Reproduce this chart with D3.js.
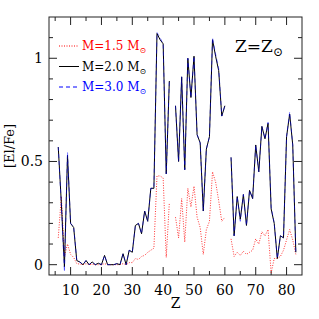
<!DOCTYPE html>
<html>
<head>
<meta charset="utf-8">
<script src="https://cdn.jsdelivr.net/npm/d3@7"></script>
<style>
  body { margin: 0; background: #fff; }
  text { font-family: "DejaVu Serif", "Liberation Serif", serif; }
</style>
</head>
<body>
<div id="chart"></div>
<script>

// atomic number of each element, null values = gaps (Tc, Pm)
var zValues = [6,7,8,9,10,11,12,13,14,15,16,17,18,19,20,21,22,23,24,25,26,27,28,29,30,
  31,32,33,34,35,36,37,38,39,40,41,42,43,44,45,46,47,48,49,50,51,52,53,54,55,56,57,58,59,60,
  61,62,63,64,65,66,67,68,69,70,71,72,73,74,75,76,77,78,79,80,81,82,83];

var m15 = [0.13,0.33,0.04,0.10,0.05,0.035,0.005,0.003,0,0.005,0,0.002,0,0,0,0.005,0,0,0,0,0,0.005,0,0.01,0.01,
  0.03,0.025,0.04,0.045,0.06,0.07,0.08,0.43,0.43,0.42,0.035,0.30,null,0.23,0.13,0.32,0.11,0.37,0.28,0.38,0.23,0.18,0.05,0.17,0.21,0.45,0.40,0.31,0.21,0.23,
  null,0.125,0.04,0.06,0.045,0.065,0.05,0.06,0.07,0.125,0.10,0.16,0.14,0.17,-0.04,0.03,0.03,0.04,0.07,0.12,0.17,0.12,0.05];

var m20 = [0.57,0.30,-0.01,0.53,0.20,0.18,0.02,0.013,0,0.02,0,0.013,0,0.007,0,0.045,0,0,0,0.005,0,0.053,0,0.07,0.06,
  0.19,0.20,0.15,0.26,0.21,0.37,0.37,1.12,1.09,1.07,0.44,0.89,null,0.77,0.50,0.91,0.46,1.00,0.81,1.01,0.63,0.59,0.26,0.56,0.62,1.09,1.01,0.94,0.72,0.77,
  null,0.52,0.14,0.33,0.22,0.34,0.19,0.36,0.32,0.58,0.45,0.67,0.61,0.685,0.27,0.20,0.03,0.14,0.13,0.62,0.73,0.58,0.06];

var m30 = [0.57,0.29,-0.035,0.545,0.20,0.185,0.02,0.013,0,0.02,0,0.013,0,0.007,0,0.045,0,0,0,0.005,0,0.053,0,0.07,0.06,
  0.19,0.20,0.15,0.26,0.21,0.37,0.37,1.125,1.10,1.07,0.44,0.89,null,0.77,0.50,0.91,0.46,1.00,0.81,1.01,0.63,0.59,0.26,0.56,0.62,1.10,1.02,0.95,0.72,0.77,
  null,0.52,0.14,0.33,0.21,0.34,0.19,0.36,0.32,0.58,0.45,0.67,0.61,0.69,0.28,0.20,0.03,0.14,0.13,0.62,0.74,0.58,0.06];

var xTicks = [10,20,30,40,50,60,70,80];
var yTicks = [0,0.5,1];

var series = [
  { name: "M=1.5", values: m15, color: "#ff0000", dash: "1,1.5", opacity: 0.8 },
  { name: "M=2.0", values: m20, color: "#000000", dash: null, opacity: 1 },
  { name: "M=3.0", values: m30, color: "#0000ff", dash: "4,3", opacity: 0.5 }
];

var W = 319, H = 319;
var margin = { top: 17, right: 17, bottom: 44, left: 49 };
var width = W - margin.left - margin.right;
var height = H - margin.top - margin.bottom;

var svg = d3.select("#chart").append("svg")
  .attr("width", W)
  .attr("height", H);

var g = svg.append("g")
  .attr("transform", "translate(" + margin.left + "," + margin.top + ")");

var x = d3.scaleLinear().domain([3, 85]).range([0, width]);
var y = d3.scaleLinear().domain([-0.05, 1.2]).range([height, 0]);

//AXES (ticks inward on all four sides)
var minorX = d3.range(5, 85, 5);
var minorY = d3.range(0, 1.2, 0.1);

function tickLen(isMajor) { return isMajor ? 8 : 4; }

minorX.forEach(function(t) {
  var big = t % 10 == 0;
  g.append("line").attr("x1", x(t)).attr("x2", x(t)).attr("y1", height).attr("y2", height - tickLen(big))
    .attr("stroke", "#222").attr("stroke-width", 1);
  g.append("line").attr("x1", x(t)).attr("x2", x(t)).attr("y1", 0).attr("y2", tickLen(big))
    .attr("stroke", "#222").attr("stroke-width", 1);
});
minorY.forEach(function(t) {
  var big = Math.abs(t * 2 - Math.round(t * 2)) < 1e-6;
  g.append("line").attr("x1", 0).attr("x2", tickLen(big)).attr("y1", y(t)).attr("y2", y(t))
    .attr("stroke", "#222").attr("stroke-width", 1);
  g.append("line").attr("x1", width).attr("x2", width - tickLen(big)).attr("y1", y(t)).attr("y2", y(t))
    .attr("stroke", "#222").attr("stroke-width", 1);
});

g.selectAll(".xlab").data(xTicks).enter().append("text")
  .attr("class", "xlab")
  .attr("x", function(d) { return x(d); })
  .attr("y", height + 20)
  .attr("text-anchor", "middle")
  .attr("font-size", 14)
  .text(function(d) { return d; });

g.selectAll(".ylab").data(yTicks).enter().append("text")
  .attr("class", "ylab")
  .attr("x", -6)
  .attr("y", function(d) { return y(d) + 5; })
  .attr("text-anchor", "end")
  .attr("font-size", 14)
  .text(function(d) { return d; });

g.append("rect")
  .attr("width", width).attr("height", height)
  .attr("fill", "none").attr("stroke", "#222").attr("stroke-width", 1);

svg.append("text")
  .attr("x", margin.left + width / 2)
  .attr("y", 308)
  .attr("text-anchor", "middle")
  .attr("font-size", 14)
  .text("Z");

svg.append("text")
  .attr("transform", "translate(14," + (margin.top + height / 2) + ") rotate(-90)")
  .attr("text-anchor", "middle")
  .attr("font-size", 13)
  .text("[El/Fe]");

//LINES
var line = d3.line()
  .defined(function(d) { return d[1] !== null; })
  .x(function(d) { return x(d[0]); })
  .y(function(d) { return y(d[1]); });

series.forEach(function(s) {
  var pts = zValues.map(function(z, i) { return [z, s.values[i]]; });
  g.append("path")
    .datum(pts)
    .attr("d", line)
    .attr("fill", "none")
    .attr("stroke", s.color)
    .attr("stroke-width", 1)
    .attr("stroke-opacity", s.opacity)
    .attr("stroke-dasharray", s.dash);
});

//LEGEND
var legend = svg.append("g").attr("transform", "translate(59,46)");
series.forEach(function(s, i) {
  var row = legend.append("g").attr("transform", "translate(0," + (i * 20.5) + ")");
  row.append("line")
    .attr("x1", 0).attr("x2", 20).attr("y1", 0).attr("y2", 0)
    .attr("stroke", s.color)
    .attr("stroke-width", 1)
    .attr("stroke-dasharray", s.dash);
  var t = row.append("text")
    .attr("x", 23).attr("y", 4)
    .attr("font-size", 12)
    .attr("fill", s.color);
  t.append("tspan").text(s.name + " M");
  t.append("tspan").attr("dy", 3).attr("font-size", 8).text("\u2299");
});

// Z = Zsun label
var zl = svg.append("text")
  .attr("x", 235).attr("y", 52)
  .attr("font-size", 17);
zl.append("tspan").text("Z=Z");
zl.append("tspan").attr("dy", 4).attr("font-size", 12).text("\u2299");

</script>
</body>
</html>
